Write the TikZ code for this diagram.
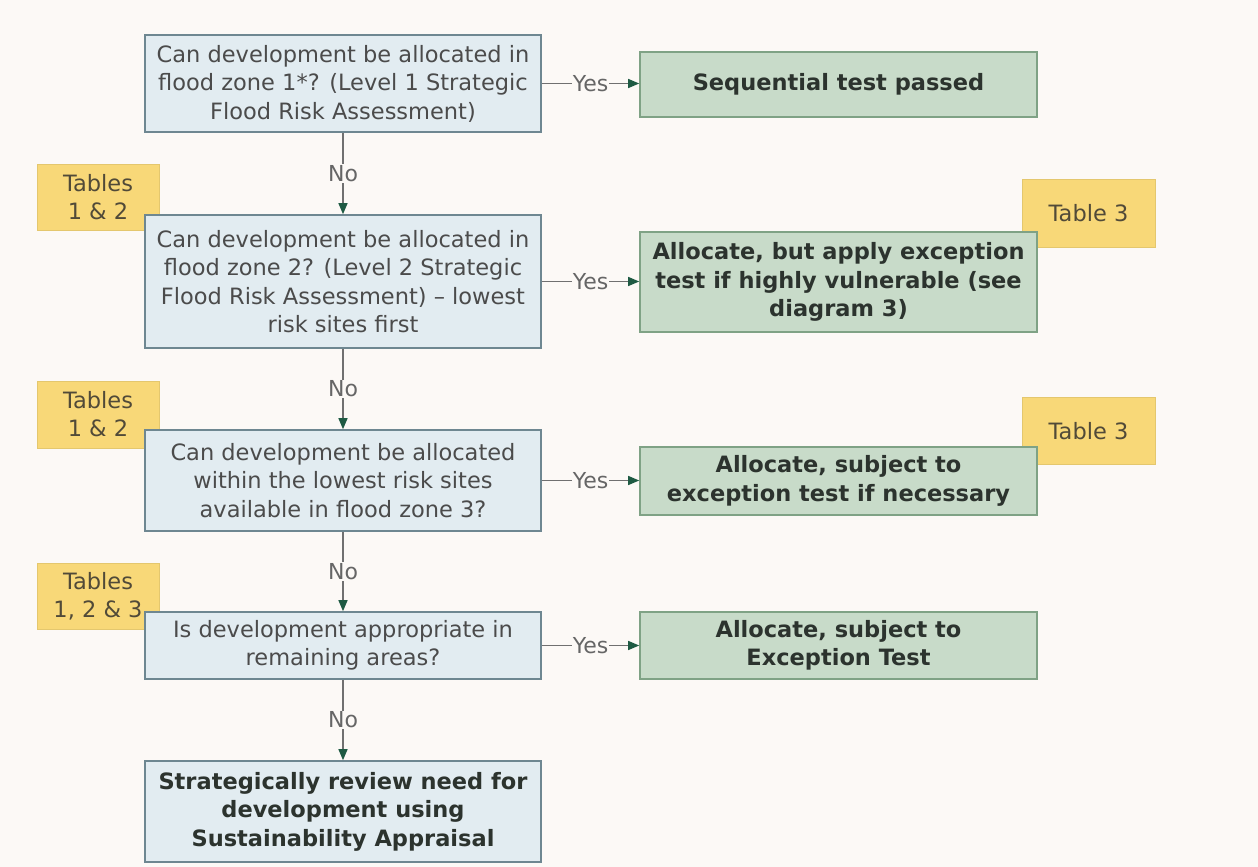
\documentclass[tikz,border=0pt]{standalone}
\usepackage{fontspec}
\setmainfont{DejaVu Sans}
\usetikzlibrary{arrows.meta}
\definecolor{bg}{HTML}{FCF9F6}
\definecolor{qfill}{HTML}{E2ECF1}
\definecolor{qborder}{HTML}{6E8791}
\definecolor{qtext}{HTML}{4B4B4B}
\definecolor{gfill}{HTML}{C8DBC9}
\definecolor{gborder}{HTML}{7FA285}
\definecolor{gtext}{HTML}{2C332E}
\definecolor{yfill}{HTML}{F8D878}
\definecolor{ytext}{HTML}{514A38}
\definecolor{linec}{HTML}{707070}
\definecolor{tipc}{HTML}{1E5A43}
\definecolor{lbl}{HTML}{666666}
\tikzset{
  qbox/.style={draw=qborder, fill=qfill, line width=1.6pt, minimum width=396pt, inner sep=0pt, align=center, text=qtext, font=\fontsize{22.5}{28.5}\selectfont},
  gbox/.style={draw=gborder, fill=gfill, line width=1.6pt, minimum width=397pt, inner sep=0pt, align=center, text=gtext, font=\bfseries\fontsize{22.5}{28.5}\selectfont},
  ybox/.style={fill=yfill, draw=yfill!92!black, line width=0.4pt, inner sep=0pt, align=center, text=ytext, font=\fontsize{22.5}{28}\selectfont},
  conn/.style={draw=linec, line width=1.3pt, -{Triangle[length=11pt,width=9pt,color=tipc]}},
  lab/.style={fill=bg, text=lbl, inner sep=1pt, font=\fontsize{22}{24}\selectfont}
}
\begin{document}
\begin{tikzpicture}[x=1pt,y=-1pt]
\fill[bg] (0,0) rectangle (1258,867);
\useasboundingbox (0,0) rectangle (1258,867);
% yellow tags (behind)
\node[ybox, minimum width=122pt, minimum height=66pt] (t1) at (98,197) {Tables\\1 \& 2};
\node[ybox, minimum width=133pt, minimum height=68pt] (t2) at (1088.5,213) {Table 3};
\node[ybox, minimum width=122pt, minimum height=67pt] (t3) at (98,414.5) {Tables\\1 \& 2};
\node[ybox, minimum width=133pt, minimum height=67pt] (t4) at (1088.5,431) {Table 3};
\node[ybox, minimum width=122pt, minimum height=66pt] (t5) at (98,596) {Tables\\1, 2 \& 3};
% question boxes
\node[qbox, minimum height=97pt] (q1) at (343,83.5) {Can development be allocated in\\flood zone 1*? (Level 1 Strategic\\Flood Risk Assessment)};
\node[qbox, minimum height=133pt] (q2) at (343,281.5) {Can development be allocated in\\flood zone 2? (Level 2 Strategic\\Flood Risk Assessment) – lowest\\risk sites first};
\node[qbox, minimum height=101pt] (q3) at (343,480.5) {Can development be allocated\\within the lowest risk sites\\available in flood zone 3?};
\node[qbox, minimum height=67pt] (q4) at (343,645.5) {Is development appropriate in\\remaining areas?};
\node[qbox, minimum height=101pt, font=\bfseries\fontsize{22.5}{28.5}\selectfont, text=gtext] (q5) at (343,811.5) {Strategically review need for\\development using\\Sustainability Appraisal};
% green result boxes
\node[gbox, minimum height=65pt] (g1) at (838.5,84.5) {Sequential test passed};
\node[gbox, minimum height=100pt] (g2) at (838.5,282) {Allocate, but apply exception\\test if highly vulnerable (see\\diagram 3)};
\node[gbox, minimum height=68pt] (g3) at (838.5,481) {Allocate, subject to\\exception test if necessary};
\node[gbox, minimum height=67pt] (g4) at (838.5,645.5) {Allocate, subject to\\Exception Test};
% connectors
\draw[conn] (q1.east) -- node[lab]{Yes} (q1.east -| g1.west);
\draw[conn] (q2.east) -- node[lab]{Yes} (q2.east -| g2.west);
\draw[conn] (q3.east) -- node[lab]{Yes} (q3.east -| g3.west);
\draw[conn] (q4.east) -- node[lab]{Yes} (q4.east -| g4.west);
\draw[conn] (q1.south) -- node[lab]{No} (q2.north);
\draw[conn] (q2.south) -- node[lab]{No} (q3.north);
\draw[conn] (q3.south) -- node[lab]{No} (q4.north);
\draw[conn] (q4.south) -- node[lab]{No} (q5.north);
\end{tikzpicture}
\end{document}
